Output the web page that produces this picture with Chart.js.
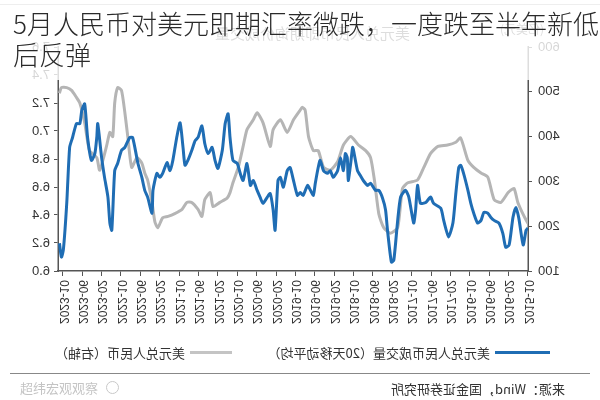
<!DOCTYPE html>
<html>
<head>
<meta charset="utf-8">
<script src="https://cdn.jsdelivr.net/npm/chart.js@4.4.0/dist/chart.umd.min.js"></script>
<style>
  html, body { margin: 0; padding: 0; background: #fff; }
  #stage { position: relative; width: 600px; height: 400px; overflow: hidden;
           font-family: "Noto Sans CJK SC", "Liberation Sans", sans-serif; }
  /* the reference picture is a mirror image of the report chart */
  #flip { position: absolute; left: 0; top: 0; width: 600px; height: 400px; transform: scaleX(-1); }
  #chart { position: absolute; left: 0; top: 0; }
  .rule { position: absolute; height: 0; border-top: 1px solid #999; }
  .txt { position: absolute; white-space: nowrap; color: #333; }
  .swatch { position: absolute; height: 3px; }
  #cover { position: absolute; left: 0; top: 0; width: 600px; height: 80px; background: rgba(255,255,255,0.8); }
  #title { position: absolute; left: 13px; top: 7px; font-size: 26px; line-height: 31px; color: #2a2a2a;
           font-weight: 300; white-space: nowrap; }
  #mark { position: absolute; left: 20px; top: 378px; font-size: 13px; color: #c4c4c4; }
  #mark span { display: inline-block; width: 11px; height: 11px; border: 1.5px solid #c8c8c8; border-radius: 50%; margin-left: 8px; vertical-align: -1px; }
</style>
</head>
<body>
<div id="stage">
  <div id="flip">
    <div class="rule" style="left:0;top:4px;width:600px;border-color:#aaa"></div>
    <div class="txt" style="left:190px;top:22px;font-size:15px;color:#555">美元兑人民币即期询价成交量</div>
    <div class="txt" style="left:56px;top:20px;font-size:12px;color:#555">(亿美元)</div>
    <canvas id="chart" width="600" height="400"></canvas>
    <div class="swatch" style="left:50px;top:351px;width:55px;background:#1f6db4"></div>
    <div class="txt" style="left:110px;top:343px;font-size:13px">美元兑人民币成交量（20天移动平均）</div>
    <div class="swatch" style="left:368px;top:351px;width:42px;background:#c4c4c4"></div>
    <div class="txt" style="left:415px;top:343px;font-size:13px">美元兑人民币（右轴）</div>
    <div class="rule" style="left:10px;top:373px;width:580px;border-color:#888"></div>
    <div class="txt" style="left:35px;top:379px;font-size:13px">来源：Wind，国金证券研究所</div>
  </div>
  <div id="cover"></div>
  <div id="title">5月人民币对美元即期汇率微跌，一度跌至半年新低<br>后反弹</div>
  <div id="mark">超纬宏观观察<span></span></div>
</div>
<script>
// x values are months counted from 2015-10
const tickLabels = ['2015-10','2016-02','2016-06','2016-10','2017-02','2017-06','2017-10',
  '2018-02','2018-06','2018-10','2019-02','2019-06','2019-10','2020-02','2020-06','2020-10',
  '2021-02','2021-06','2021-10','2022-02','2022-06','2022-10','2023-02','2023-06','2023-10'];

// spot volume, 20-day moving average (left axis)
const volMonth = [0,0.4,1,1.9,2.5,3.1,3.9,4.6,5.2,6,7,7.7,8.3,9.1,9.7,10.4,11.2,11.8,12.4,13.3,
  13.9,14.3,14.9,15.5,16.4,17.4,18,19.5,20.1,21.1,22.2,22.8,23.2,23.6,24.6,25.3,26.3,26.9,27.7,28.2,
  29,29.4,30,30.8,31.5,32.5,33.1,34,34.6,35.2,36,36.2,36.6,37.1,37.3,37.7,38.1,38.7,39.3,40.2,
  40.8,41.4,42.2,42.9,43.3,43.9,44.3,44.9,45.5,46.4,47,47.6,48.4,49.1,49.7,50.5,51.1,51.6,52.2,52.6,
  53.2,53.8,54.7,55.3,55.9,56.7,57.3,58,58.8,59.4,60,60.9,61.5,61.9,62.5,63.1,64,64.6,65.2,66,
  66.7,67.3,68.1,68.7,69.4,70.2,70.8,71.2,71.8,72.5,73.3,73.9,74.5,75.4,76,76.6,77.4,77.6,78.5,79.1,
  79.7,80.5,81.6,82.2,83.2,83.9,84.7,85.3,85.9,86.3,86.7,87.4,88,88.8,89,89.4,90.1,90.9,91.5,92.1,
  92.5,93.2,94,94.6,95.2,95.9,96.3,96.7];
const volValue = [196,191,158,218,242,220,158,153,184,207,213,220,229,231,213,207,229,251,280,318,
  336,331,273,207,176,213,240,251,265,253,251,291,236,207,265,280,265,213,124,120,
  191,236,262,280,280,296,291,302,313,324,369,376,340,302,353,362,324,353,324,309,
  324,318,324,347,331,296,269,280,291,269,275,269,302,331,324,287,309,302,191,236,
  273,265,251,265,280,302,291,340,302,318,340,347,398,451,429,369,329,347,376,362,
  384,424,398,391,369,347,336,376,431,398,347,324,342,318,309,318,280,229,265,280,
  309,340,398,398,376,369,340,324,191,207,265,309,353,429,398,362,347,398,473,458,
  429,429,398,376,251,147,131,162];

// USD/CNY spot rate (right axis)
const rateMonth = [0,0.8,2.1,2.9,4.1,5.6,7,8.3,9.7,11.2,12.4,13.9,14.9,16.6,18.6,20.1,21.5,22.8,24.8,25.9,
  26.9,28.4,29.8,30.8,31.7,32.5,33.5,35,36.6,38.1,39.3,40.8,42.2,43.3,44.3,45.3,46,46.6,47,48.4,
  49.7,51.1,52.6,53.2,54.7,55.9,56.7,58,58.8,59.8,60.9,61.5,62.1,63.6,65,65.6,66.7,67.3,68.1,69.4,
  70.4,71.4,72.9,74.3,75.4,76.4,77,77.6,78.5,79.1,79.7,80.7,81.8,82.6,83.2,83.9,84.7,85.3,85.7,86.3,
  87,88.4,89,90.5,91.5,92.5,93.2,94.2,95.2,96.3,96.7];
const rateValue = [6.34,6.39,6.49,6.59,6.56,6.49,6.51,6.67,6.70,6.74,6.79,6.95,6.92,6.90,6.89,6.84,6.74,6.65,6.63,6.59,
  6.31,6.27,6.31,6.41,6.65,6.81,6.86,6.90,6.96,6.90,6.78,6.72,6.74,6.86,6.86,6.96,7.15,7.17,7.15,7.08,
  6.99,7.08,7.01,6.89,7.06,7.13,7.08,7.01,6.89,6.74,6.63,6.56,6.52,6.49,6.46,6.56,6.51,6.39,6.44,6.49,
  6.49,6.44,6.41,6.39,6.38,6.31,6.35,6.49,6.65,6.70,6.77,6.81,6.74,6.96,7.13,7.29,7.31,7.20,6.96,6.99,
  6.89,6.72,6.81,6.86,7.06,7.20,7.24,7.29,7.31,7.31,7.27];

const volPoints = volMonth.map((m, i) => ({ x: m, y: volValue[i] }));
const ratePoints = rateMonth.map((m, i) => ({ x: m, y: rateValue[i] }));

const tickFont = { family: 'Liberation Sans', size: 13 };
const axisColor = '#555';

new Chart(document.getElementById('chart'), {
  type: 'line',
  data: {
    datasets: [
      {
        label: '美元兑人民币成交量（20天移动平均）',
        data: volPoints,
        yAxisID: 'yVol',
        borderColor: '#1f6db4',
        borderWidth: 3,
        pointRadius: 0,
        tension: 0.2,
        order: 1
      },
      {
        label: '美元兑人民币（右轴）',
        data: ratePoints,
        yAxisID: 'yRate',
        borderColor: '#b5b5b5',
        borderWidth: 3,
        pointRadius: 0,
        tension: 0.2,
        order: 2
      }
    ]
  },
  options: {
    responsive: false,
    animation: false,
    devicePixelRatio: 1,
    layout: { padding: { top: 47, left: 0, right: 0, bottom: 0 } },
    plugins: { legend: { display: false }, tooltip: { enabled: false } },
    scales: {
      x: {
        type: 'linear',
        min: 0,
        max: 97,
        afterBuildTicks: s => { s.ticks = tickLabels.map((_, i) => ({ value: i * 4 })); },
        afterFit: s => { s.height = 129; },
        ticks: {
          autoSkip: false,
          minRotation: 90,
          maxRotation: 90,
          padding: 4,
          color: '#333',
          font: { family: 'Liberation Sans', size: 12 },
          callback: v => tickLabels[Math.round(v / 4)]
        },
        grid: { drawOnChartArea: false, tickLength: 5, color: axisColor },
        border: { color: axisColor, width: 1.5 }
      },
      yVol: {
        position: 'left',
        min: 100,
        max: 600,
        afterFit: s => { s.width = 72; },
        ticks: { stepSize: 100, padding: 6, color: '#333', font: tickFont },
        grid: { drawOnChartArea: false, tickLength: 4, color: axisColor },
        border: { color: axisColor, width: 1.5 }
      },
      yRate: {
        position: 'right',
        min: 6.0,
        max: 7.6,
        afterFit: s => { s.width = 58; },
        ticks: { stepSize: 0.2, padding: 4, color: '#333', font: tickFont, callback: v => v.toFixed(1) },
        grid: { drawOnChartArea: false, tickLength: 4, color: axisColor },
        border: { color: axisColor, width: 1.5 }
      }
    }
  }
});
</script>
</body>
</html>
